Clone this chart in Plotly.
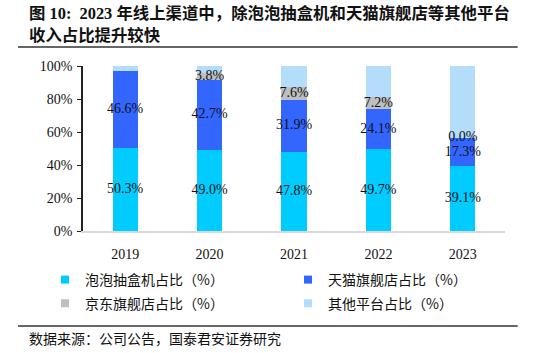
import plotly.graph_objects as go

years = ["2019", "2020", "2021", "2022", "2023"]
popmart = [50.3, 49.0, 47.8, 49.7, 39.1]
tmall = [46.6, 42.7, 31.9, 24.1, 17.3]
jd = [None, 3.8, 7.6, 7.2, 0.0]
other = [3.1, 4.5, 12.7, 19.0, 43.6]

names = ["泡泡抽盒机占比（%）", "天猫旗舰店占比（%）", "京东旗舰店占比（%）", "其他平台占比（%）"]
colors = ["#00CCFF", "#3366FF", "#BFBFBF", "#B4DCFB"]
series = [popmart, tmall, jd, other]
labeled = [True, True, True, False]
legend_ids = ["legend", "legend", "legend2", "legend2"]

SERIF = "Liberation Serif, Times New Roman, serif"
CJK = "Noto Sans CJK SC"

fig = go.Figure()
for name, col, vals in zip(names, colors, series):
    fig.add_trace(go.Bar(
        x=years, y=vals, name=name, marker=dict(color=col, line=dict(width=0)),
        showlegend=False,
    ))

# legend entries with small square swatches
for name, col, lg in zip(names, colors, legend_ids):
    fig.add_trace(go.Scatter(
        x=[None], y=[None], mode="markers", name=name, legend=lg,
        marker=dict(symbol="square", size=8, color=col), showlegend=True,
    ))

# data labels centered in each labelled segment
base = [0.0] * len(years)
for vals, lab in zip(series, labeled):
    mids, texts = [], []
    for i, v in enumerate(vals):
        if v is None:
            mids.append(None)
            texts.append("")
            continue
        mids.append(base[i] + v / 2)
        texts.append(f"{v:.1f}%")
        base[i] += v
    if lab:
        fig.add_trace(go.Scatter(
            x=years, y=mids, text=texts, mode="text", showlegend=False,
            textfont=dict(family=SERIF, size=14, color="#111111"),
            hoverinfo="skip",
        ))

LEG_COMMON = dict(
    orientation="h", x=-0.09, xanchor="left", yanchor="middle",
    font=dict(family=CJK, size=14, color="#111111"),
    entrywidth=198, entrywidthmode="pixels",
    traceorder="normal", itemwidth=30, bgcolor="rgba(0,0,0,0)",
)

fig.update_layout(
    width=542, height=353,
    margin=dict(l=83, r=37, t=66, b=122),
    paper_bgcolor="white", plot_bgcolor="white",
    barmode="stack", bargap=0.7,
    font=dict(family=SERIF, size=14, color="#111111"),
    legend=dict(y=-0.297, **LEG_COMMON),
    legend2=dict(y=-0.44, **LEG_COMMON),
)
fig.update_yaxes(
    range=[0, 100], dtick=20, ticksuffix="%", showgrid=False, zeroline=False,
    showline=True, linecolor="#222222", linewidth=1.5, ticks="outside",
    ticklen=4, tickcolor="#222222", tickfont=dict(family=SERIF, size=14),
    ticklabelstandoff=2,
)
fig.update_xaxes(
    showline=True, linecolor="#D9D9D9", linewidth=2, showgrid=False,
    tickfont=dict(family=SERIF, size=14), ticks="", ticklabelstandoff=9,
)

TITLE_FONT = dict(family="Liberation Serif, " + CJK, size=16.4, color="#111111")
fig.add_annotation(xref="paper", yref="paper", x=-0.1327, y=1.321, xanchor="left", yanchor="middle",
                   text="<b>图 10:  2023 年线上渠道中，除泡泡抽盒机和天猫旗舰店等其他平台</b>",
                   showarrow=False, font=TITLE_FONT)
fig.add_annotation(xref="paper", yref="paper", x=-0.1327, y=1.182, xanchor="left", yanchor="middle",
                   text="<b>收入占比提升较快</b>", showarrow=False, font=TITLE_FONT)
fig.add_annotation(xref="paper", yref="paper", x=-0.1327, y=-0.648, xanchor="left", yanchor="middle",
                   text="数据来源：公司公告，国泰君安证券研究", showarrow=False,
                   font=dict(family=CJK, size=14, color="#111111"))
fig.add_shape(type="line", xref="paper", yref="paper", x0=-0.154, x1=1.03, y0=1.115, y1=1.115,
              line=dict(color="#333333", width=1.5))
fig.add_shape(type="line", xref="paper", yref="paper", x0=-0.154, x1=1.03, y0=-0.576, y1=-0.576,
              line=dict(color="#333333", width=1.5))

fig.write_html("out.html")
